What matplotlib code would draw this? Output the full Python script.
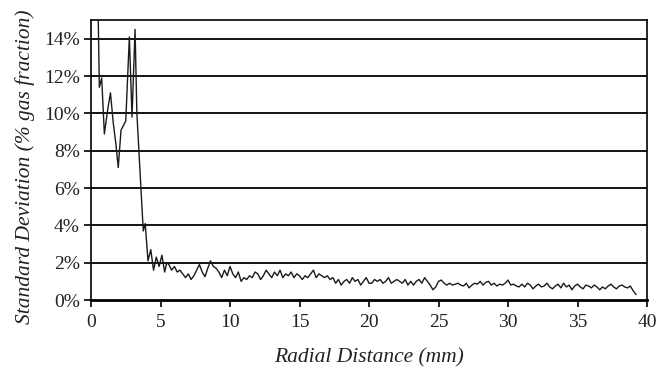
import numpy as np
import matplotlib
matplotlib.use("Agg")
import matplotlib.pyplot as plt
from matplotlib.ticker import FuncFormatter

# Early (near-centre) part of the profile, irregular sampling
x_early = [0.5, 0.6, 0.77, 0.96, 1.2, 1.4, 1.6, 1.8, 1.96, 2.16, 2.3, 2.5, 2.76,
           2.95, 3.17, 3.3, 3.5, 3.76, 3.9, 4.1, 4.3, 4.5, 4.7, 4.9, 5.1, 5.3, 5.45]
y_early = [16.0, 11.4, 11.9, 8.9, 10.2, 11.1, 9.5, 8.3, 7.1, 9.1, 9.3, 9.6, 14.1,
           9.8, 14.5, 10.0, 7.3, 3.7, 4.1, 2.1, 2.7, 1.6, 2.3, 1.8, 2.4, 1.5, 2.0]

# Tail part, sampled every 0.2 mm from 5.6 mm
tail_start = 5.6
tail_step = 0.2
y_tail = [
    1.9, 1.6, 1.8, 1.5, 1.6,
    1.4, 1.2, 1.4, 1.1, 1.3,
    1.6, 1.9, 1.5, 1.25, 1.7, 2.1, 1.8,
    1.7, 1.5, 1.2, 1.6, 1.3, 1.8,
    1.4, 1.2, 1.5, 1.0, 1.2,
    1.1, 1.3, 1.2, 1.5, 1.4,
    1.1, 1.3, 1.6, 1.4, 1.2,
    1.5, 1.3, 1.6, 1.2, 1.4,
    1.3, 1.5, 1.2, 1.4, 1.3,
    1.1, 1.3, 1.2, 1.4, 1.6,
    1.2, 1.4, 1.3, 1.2, 1.3,
    1.1, 1.2, 0.9, 1.1, 0.8,
    1.0, 1.1, 0.9, 1.2, 1.0,
    1.1, 0.8, 1.0, 1.2, 0.9,
    0.9, 1.1, 1.0, 1.1, 0.9,
    1.0, 1.2, 0.9, 1.0, 1.1,
    1.0, 0.9, 1.1, 0.8, 1.0,
    0.8, 1.0, 1.1, 0.9, 1.2,
    1.0, 0.8, 0.55, 0.7, 1.0,
    1.07, 0.9, 0.8, 0.9, 0.8,
    0.85, 0.9, 0.8, 0.75, 0.9,
    0.65, 0.8, 0.9, 0.85, 1.0,
    0.8, 0.95, 1.0, 0.8, 0.9,
    0.75, 0.85, 0.8, 0.9, 1.07,
    0.8, 0.85, 0.75, 0.7, 0.85,
    0.7, 0.9, 0.8, 0.6, 0.75,
    0.85, 0.7, 0.75, 0.9, 0.7,
    0.6, 0.75, 0.85, 0.65, 0.9,
    0.7, 0.8, 0.55, 0.75, 0.85,
    0.7, 0.6, 0.8, 0.75, 0.65,
    0.8, 0.7, 0.55, 0.7, 0.6,
    0.75, 0.85, 0.7, 0.6, 0.75,
    0.8, 0.7, 0.65, 0.75, 0.5,
    0.3,
]
x_tail = list(np.round(tail_start + tail_step * np.arange(len(y_tail)), 2))

x = x_early + x_tail
y = y_early + y_tail

x_ticks = [0, 5, 10, 15, 20, 25, 30, 35, 40]
y_ticks = [0, 2, 4, 6, 8, 10, 12, 14]

plt.rcParams['font.family'] = ['Liberation Serif', 'DejaVu Serif']

fig = plt.figure(figsize=(6.58, 3.72), dpi=100)
ax = fig.add_axes([0.1383, 0.1935, 0.845, 0.7525])

for yt in y_ticks[1:]:
    ax.axhline(yt, color='black', lw=1.3, zorder=1)

ax.plot(x, y, color='#1a1a1a', lw=1.0, zorder=3)

ax.set_xlim(0, 40)
ax.set_ylim(0, 15)
ax.set_xticks(x_ticks)
ax.set_yticks(y_ticks)
ax.yaxis.set_major_formatter(FuncFormatter(lambda v, p: f"{int(v)}%"))

for s in ax.spines.values():
    s.set_color('black')
    s.set_linewidth(1.2)
ax.spines['bottom'].set_linewidth(2.0)

ax.tick_params(axis='both', direction='out', length=5, width=1.2, color='black',
               labelsize=14, labelcolor='#222222')
ax.tick_params(axis='x', pad=5)
ax.tick_params(axis='y', pad=3)

ax.set_xlabel('Radial Distance (mm)', fontsize=15.5, style='italic', color='#222222')
ax.set_ylabel('Standard Deviation (% gas fraction)', fontsize=15.5, style='italic',
              color='#222222')
ax.xaxis.label.set_va('center')
ax.yaxis.label.set_va('center')
ax.xaxis.set_label_coords(0.5, -0.207)
ax.yaxis.set_label_coords(-0.119, 0.475)

fig.savefig('out.png', dpi=100)
